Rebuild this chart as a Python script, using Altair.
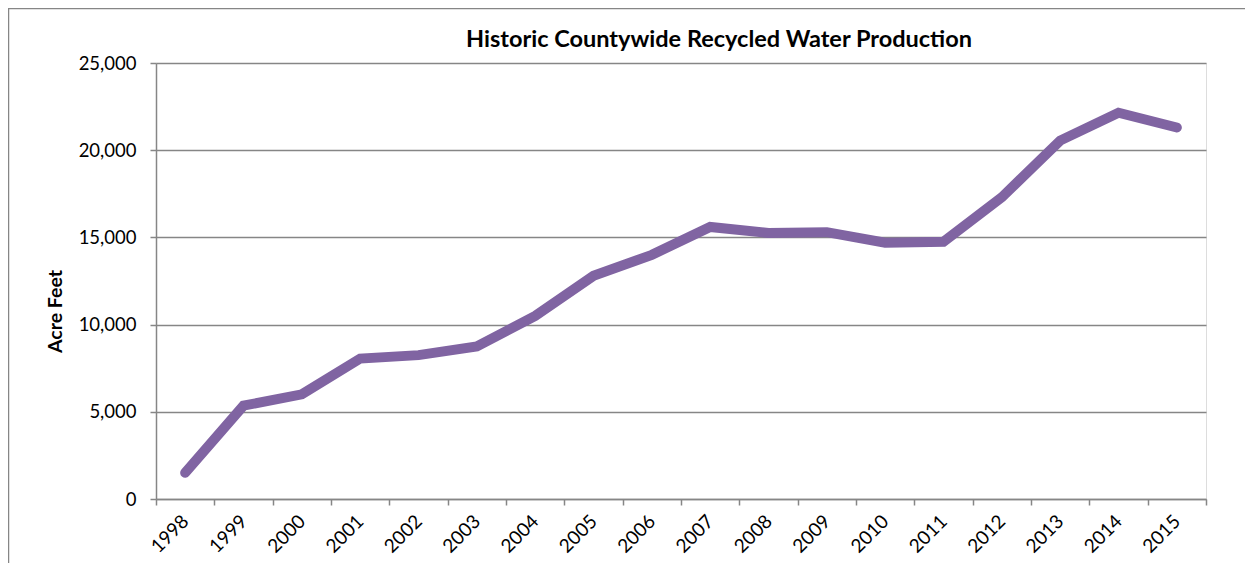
import altair as alt
import pandas as pd

years = ["1998", "1999", "2000", "2001", "2002", "2003", "2004", "2005", "2006",
         "2007", "2008", "2009", "2010", "2011", "2012", "2013", "2014", "2015"]
acre_feet = [1500, 5350, 6000, 8050, 8250, 8750, 10500, 12800, 14000,
             15600, 15250, 15300, 14700, 14750, 17300, 20550, 22150, 21300]
y_ticks = [0, 5000, 10000, 15000, 20000, 25000]

title_text = "Historic Countywide Recycled Water Production"
y_title = "Acre Feet"

df = pd.DataFrame({"Year": years, "AcreFeet": acre_feet})

GRAY = "#868686"
FONT = "Lato"

line = alt.Chart(df).mark_line(
    color="#8064A2", strokeWidth=10, strokeCap="round", strokeJoin="miter"
).encode(
    x=alt.X("Year:N", sort=years,
            scale=alt.Scale(type="band", paddingInner=0, paddingOuter=0),
            axis=alt.Axis(title=None, labelAngle=-45, labelAlign="right",
                          labelBaseline="middle", tickBand="extent",
                          domainColor=GRAY, tickColor=GRAY, tickSize=6,
                          domainWidth=1.5, tickWidth=1.5,
                          labelPadding=13, grid=False, labelFont=FONT,
                          labelFontSize=19, labelColor="black")),
    y=alt.Y("AcreFeet:Q",
            scale=alt.Scale(domain=[0, 25000], nice=False),
            axis=alt.Axis(title=y_title, values=y_ticks, format=",.0f",
                          domainColor=GRAY, tickColor=GRAY, tickSize=6,
                          domainWidth=1.5, tickWidth=1.5,
                          gridColor=GRAY, gridOpacity=1, gridWidth=1.5,
                          labelPadding=14,
                          labelFont=FONT, labelFontSize=18.5, labelColor="black",
                          titleFont=FONT, titleFontSize=19.5, titleFontWeight="bold",
                          titleColor="black", titleX=-101, titleY=248,
                          titleAngle=270, titleAlign="center",
                          titleBaseline="middle")),
)

one_row = alt.Data(values=[{"t": title_text}])
left_border = alt.Chart(one_row).mark_rule(color=GRAY, strokeWidth=1.5).encode(
    x=alt.value(-147.5), y=alt.value(-55), y2=alt.value(700)
)
top_border = alt.Chart(one_row).mark_rule(color=GRAY, strokeWidth=1.5).encode(
    x=alt.value(-148), x2=alt.value(1400), y=alt.value(-54.5)
)
title_mark = alt.Chart(one_row).mark_text(
    font=FONT, fontSize=23.5, fontWeight="bold", color="black",
    align="center", baseline="alphabetic"
).encode(
    x=alt.value(563), y=alt.value(-16), text="t:N"
)

chart = alt.layer(left_border, top_border, line, title_mark).properties(
    width=1050,
    height=436,
    autosize=alt.AutoSizeParams(type="none"),
    padding={"left": 148, "top": 55, "right": 39, "bottom": 64},
).configure_view(stroke=None).configure(background="white")

chart.save("out.html", embed_options={"renderer": "svg", "actions": False})
